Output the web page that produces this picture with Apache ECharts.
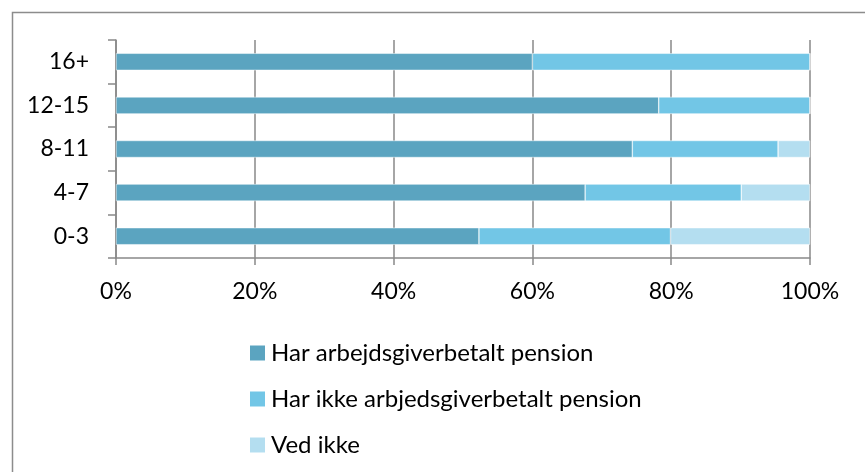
<!DOCTYPE html>
<html>
<head>
<meta charset="utf-8">
<script src="https://cdn.jsdelivr.net/npm/echarts@6/dist/echarts.min.js"></script>
<style>
  html, body { margin: 0; padding: 0; background: #fff; }
  #chart { width: 865px; height: 472px; }
</style>
</head>
<body>
<div id="chart"></div>
<script>
// Years of seniority groups (bottom to top on the category axis)
const categories = ['0-3', '4-7', '8-11', '12-15', '16+'];

// Share of employees (%) per group
const harPension = [52.3, 67.6, 74.4, 78.2, 60.0];
const harIkkePension = [27.6, 22.5, 21.0, 21.8, 40.0];
const vedIkke = [20.1, 9.9, 4.6, 0, 0];

const seriesNames = ['Har arbejdsgiverbetalt pension', 'Har ikke arbjedsgiverbetalt pension', 'Ved ikke'];
const seriesColors = ['#5BA4C0', '#72C6E6', '#B4DEF0'];
const xTicks = [0, 20, 40, 60, 80, 100];

const fontFamily = 'Lato, "Open Sans", sans-serif';
const gridGray = '#898989';

const chart = echarts.init(document.getElementById('chart'), null, { renderer: 'canvas' });

function barSeries(name, data, color) {
  return {
    name: name,
    type: 'bar',
    stack: 'total',
    data: data,
    barWidth: 17,
    itemStyle: { color: color, borderColor: '#ffffff', borderWidth: 0.5 },
    emphasis: { disabled: true }
  };
}

chart.setOption({
  animation: false,
  textStyle: { fontFamily: fontFamily },
  graphic: [{
    type: 'rect',
    left: 10, top: 10,
    shape: { x: 0, y: 0, width: 900, height: 500 },
    style: { fill: 'none', stroke: '#8c8c8c', lineWidth: 1.5 },
    silent: true,
    z: -1
  }],
  grid: { left: 116, right: 55, top: 40, bottom: 214, containLabel: false },
  xAxis: {
    type: 'value',
    min: xTicks[0],
    max: xTicks[xTicks.length - 1],
    interval: xTicks[1] - xTicks[0],
    axisLine: { show: true, lineStyle: { color: gridGray, width: 1.5 } },
    axisTick: { show: true, length: 7, lineStyle: { color: gridGray, width: 1.5 } },
    splitLine: { show: true, lineStyle: { color: gridGray, width: 1.5 } },
    axisLabel: {
      margin: 22,
      color: '#000',
      fontSize: 23,
      fontFamily: fontFamily,
      formatter: v => v + '%'
    }
  },
  yAxis: {
    type: 'category',
    data: categories,
    axisLine: { show: true, lineStyle: { color: gridGray, width: 1.5 } },
    axisTick: { show: true, length: 8, lineStyle: { color: gridGray, width: 1.5 } },
    axisLabel: { margin: 27, color: '#000', fontSize: 23, fontFamily: fontFamily }
  },
  legend: {
    orient: 'vertical',
    left: 243,
    top: 335,
    itemWidth: 17,
    itemHeight: 17,
    itemGap: 20,
    icon: 'rect',
    textStyle: { color: '#000', fontSize: 24, fontFamily: fontFamily, lineHeight: 26 },
    data: seriesNames
  },
  series: [
    barSeries(seriesNames[0], harPension, seriesColors[0]),
    barSeries(seriesNames[1], harIkkePension, seriesColors[1]),
    barSeries(seriesNames[2], vedIkke, seriesColors[2])
  ]
});
</script>
</body>
</html>
